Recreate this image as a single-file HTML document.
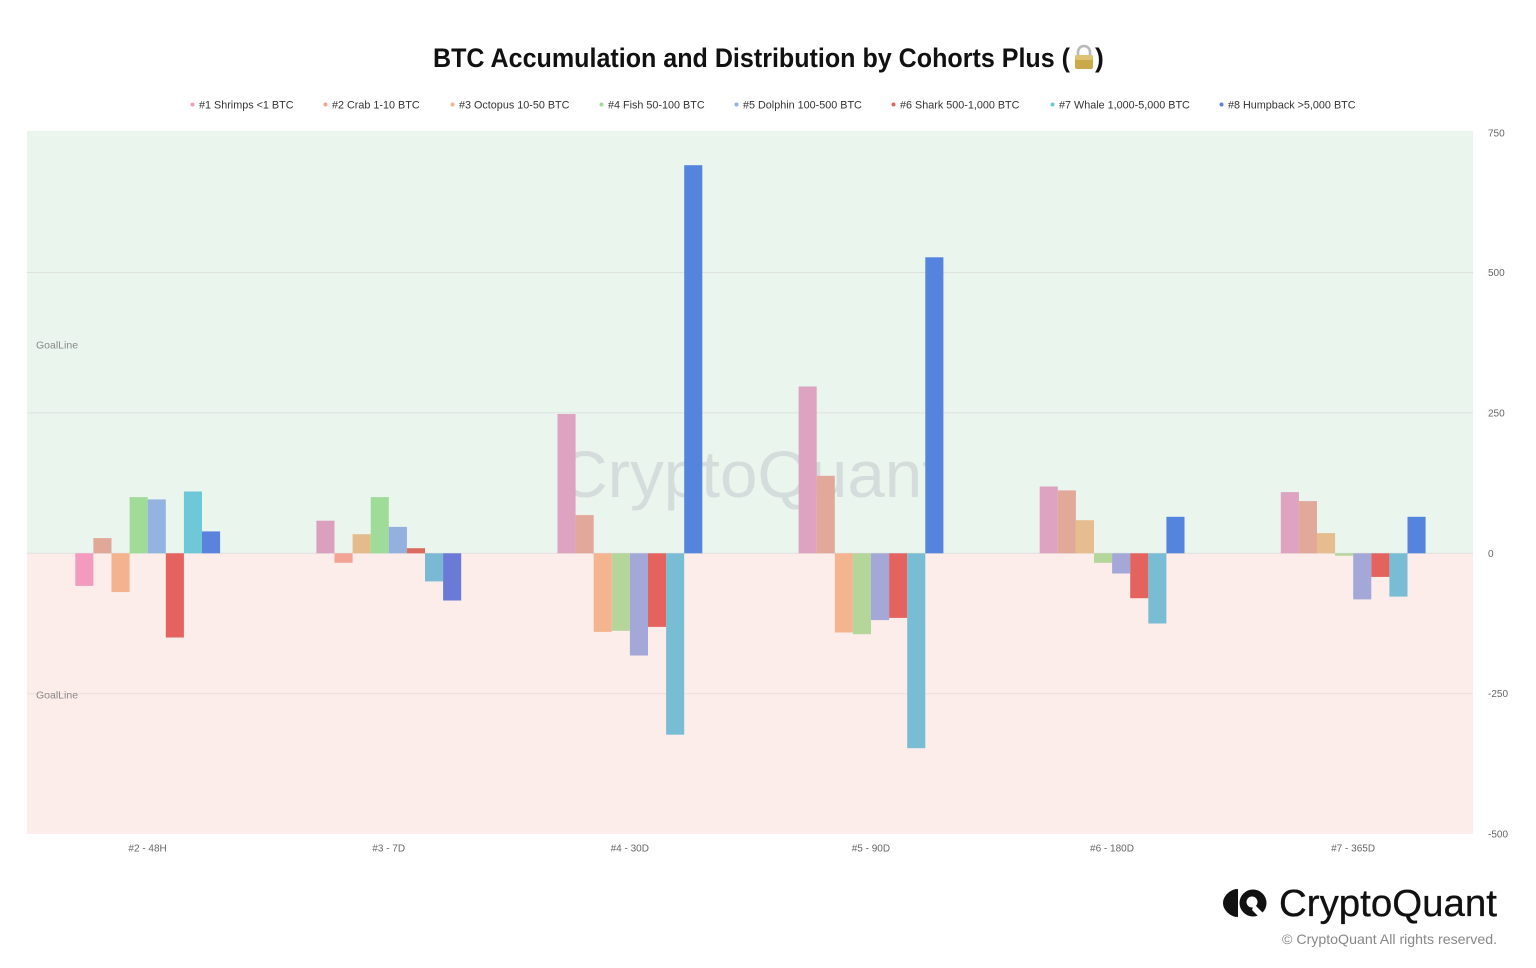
<!DOCTYPE html>
<html>
<head>
<meta charset="utf-8">
<style>
html,body{margin:0;padding:0;background:#fff;}
svg{display:block;}
text{font-family:"Liberation Sans",Arial,sans-serif;}
</style>
</head>
<body>
<svg width="1536" height="968" viewBox="0 0 1536 968" xmlns="http://www.w3.org/2000/svg">
  <rect x="0" y="0" width="1536" height="968" fill="#ffffff"/>

  <!-- Title -->
  <text x="433" y="67" font-size="26.5" font-weight="bold" fill="#111" textLength="637" lengthAdjust="spacingAndGlyphs">BTC Accumulation and Distribution by Cohorts Plus (</text>
  <g transform="translate(1073,45)">
    <path d="M5 11 V7 a6 6 0 0 1 12 0 V11" fill="none" stroke="#b9b9b9" stroke-width="2.6"/>
    <rect x="2" y="10" width="18" height="14" rx="2" fill="#c9a94a"/>
    <rect x="2" y="10" width="18" height="5" rx="2" fill="#dcc272"/>
  </g>
  <text x="1095" y="67" font-size="26.5" font-weight="bold" fill="#111">)</text>

  <!-- Legend -->
  <g font-size="10.8" fill="#333">
    <circle cx="192.5" cy="104.5" r="2" fill="#f29bbf"/><text x="199" y="108.5">#1 Shrimps &lt;1 BTC</text>
    <circle cx="325.5" cy="104.5" r="2" fill="#f2a396"/><text x="332" y="108.5">#2 Crab 1-10 BTC</text>
    <circle cx="452.5" cy="104.5" r="2" fill="#f4b38f"/><text x="459" y="108.5">#3 Octopus 10-50 BTC</text>
    <circle cx="601.5" cy="104.5" r="2" fill="#a0dc98"/><text x="608" y="108.5">#4 Fish 50-100 BTC</text>
    <circle cx="736.5" cy="104.5" r="2" fill="#95b3e0"/><text x="743" y="108.5">#5 Dolphin 100-500 BTC</text>
    <circle cx="893.5" cy="104.5" r="2" fill="#e5635e"/><text x="900" y="108.5">#6 Shark 500-1,000 BTC</text>
    <circle cx="1052.5" cy="104.5" r="2" fill="#6ec8d8"/><text x="1059" y="108.5">#7 Whale 1,000-5,000 BTC</text>
    <circle cx="1221.5" cy="104.5" r="2" fill="#5b82dd"/><text x="1228" y="108.5">#8 Humpback &gt;5,000 BTC</text>
  </g>

  <!-- Plot backgrounds -->
  <rect x="27" y="131" width="1446" height="422.3" fill="#eaf5ee"/>
  <rect x="27" y="553.3" width="1446" height="280.7" fill="#fcedea"/>

  <!-- Gridlines -->
  <g stroke="#dde2de" stroke-width="1">
    <line x1="27" x2="1473" y1="272.5" y2="272.5"/>
    <line x1="27" x2="1473" y1="412.9" y2="412.9"/>
    <line x1="27" x2="1473" y1="553.3" y2="553.3"/>
    <line x1="27" x2="1473" y1="693.7" y2="693.7" stroke="#ecdcd9"/>
  </g>

  <!-- GoalLine labels -->
  <text x="36" y="348.5" font-size="10.5" fill="#888">GoalLine</text>
  <text x="36" y="698.5" font-size="10.5" fill="#888">GoalLine</text>

  <!-- Watermark -->
  <text x="750" y="497" font-size="66" fill="#d5dcdc" text-anchor="middle" textLength="382" lengthAdjust="spacingAndGlyphs">CryptoQuant</text>

  <!-- Bars -->
  <g id="bars">
    <rect x="75.3" y="553.3" width="18.1" height="32.6" fill="#f29bbf"/>
    <rect x="93.4" y="538.1" width="18.1" height="15.2" fill="#e0a899"/>
    <rect x="111.5" y="553.3" width="18.1" height="38.8" fill="#f4b38f"/>
    <rect x="129.6" y="497.1" width="18.1" height="56.2" fill="#a0dc98"/>
    <rect x="147.7" y="499.4" width="18.1" height="53.9" fill="#95b3e0"/>
    <rect x="165.8" y="553.3" width="18.1" height="84.2" fill="#e5635e"/>
    <rect x="183.9" y="491.5" width="18.1" height="61.8" fill="#6ec8d8"/>
    <rect x="202.0" y="531.4" width="18.1" height="21.9" fill="#5b82dd"/>

    <rect x="316.4" y="520.7" width="18.1" height="32.6" fill="#dca0bf"/>
    <rect x="334.5" y="553.3" width="18.1" height="9.5" fill="#f2a396"/>
    <rect x="352.6" y="534.2" width="18.1" height="19.1" fill="#e4bc8c"/>
    <rect x="370.7" y="497.1" width="18.1" height="56.2" fill="#9fdb99"/>
    <rect x="388.8" y="526.9" width="18.1" height="26.4" fill="#93b0df"/>
    <rect x="406.9" y="548.2" width="18.1" height="5.1" fill="#dc6a5e"/>
    <rect x="425.0" y="553.3" width="18.1" height="28.1" fill="#79b9d3"/>
    <rect x="443.1" y="553.3" width="18.1" height="47.2" fill="#6a7ad6"/>

    <rect x="557.5" y="414.0" width="18.1" height="139.3" fill="#dda3c0"/>
    <rect x="575.6" y="515.1" width="18.1" height="38.2" fill="#e2a899"/>
    <rect x="593.7" y="553.3" width="18.1" height="78.6" fill="#f4b48f"/>
    <rect x="611.8" y="553.3" width="18.1" height="77.5" fill="#b4d69a"/>
    <rect x="629.9" y="553.3" width="18.1" height="102.2" fill="#a3a8d8"/>
    <rect x="648.0" y="553.3" width="18.1" height="73.6" fill="#e5635e"/>
    <rect x="666.1" y="553.3" width="18.1" height="181.4" fill="#79bdd5"/>
    <rect x="684.2" y="165.2" width="18.1" height="388.1" fill="#5484dd"/>

    <rect x="798.6" y="386.5" width="18.1" height="166.8" fill="#dda3c0"/>
    <rect x="816.7" y="475.8" width="18.1" height="77.5" fill="#e2a899"/>
    <rect x="834.8" y="553.3" width="18.1" height="79.2" fill="#f4b48f"/>
    <rect x="852.9" y="553.3" width="18.1" height="80.9" fill="#b4d69a"/>
    <rect x="871.0" y="553.3" width="18.1" height="66.8" fill="#a3a8d8"/>
    <rect x="889.1" y="553.3" width="18.1" height="64.6" fill="#e5635e"/>
    <rect x="907.2" y="553.3" width="18.1" height="194.9" fill="#79bdd5"/>
    <rect x="925.3" y="257.3" width="18.1" height="296.0" fill="#5484dd"/>

    <rect x="1039.7" y="486.5" width="18.1" height="66.8" fill="#dda3c0"/>
    <rect x="1057.8" y="490.4" width="18.1" height="62.9" fill="#e2a899"/>
    <rect x="1075.9" y="520.2" width="18.1" height="33.1" fill="#e6bd8f"/>
    <rect x="1094.0" y="553.3" width="18.1" height="9.5" fill="#b4d69a"/>
    <rect x="1112.1" y="553.3" width="18.1" height="20.2" fill="#a3a8d8"/>
    <rect x="1130.2" y="553.3" width="18.1" height="44.9" fill="#e5635e"/>
    <rect x="1148.3" y="553.3" width="18.1" height="70.2" fill="#79bdd5"/>
    <rect x="1166.4" y="516.8" width="18.1" height="36.5" fill="#5484dd"/>

    <rect x="1280.8" y="492.1" width="18.1" height="61.2" fill="#dda3c0"/>
    <rect x="1298.9" y="501.1" width="18.1" height="52.2" fill="#e2a899"/>
    <rect x="1317.0" y="533.1" width="18.1" height="20.2" fill="#e6bd8f"/>
    <rect x="1335.1" y="553.3" width="18.1" height="2.4" fill="#b4d69a"/>
    <rect x="1353.2" y="553.3" width="18.1" height="46.1" fill="#a3a8d8"/>
    <rect x="1371.3" y="553.3" width="18.1" height="23.6" fill="#e5635e"/>
    <rect x="1389.4" y="553.3" width="18.1" height="43.3" fill="#79bdd5"/>
    <rect x="1407.5" y="516.8" width="18.1" height="36.5" fill="#5484dd"/>
  </g>

  <!-- Y axis labels -->
  <g font-size="10" fill="#666">
    <text x="1488" y="136.5">750</text>
    <text x="1488" y="276">500</text>
    <text x="1488" y="416.5">250</text>
    <text x="1488" y="557">0</text>
    <text x="1488" y="697">-250</text>
    <text x="1488" y="837.5">-500</text>
  </g>

  <!-- X axis labels -->
  <g font-size="10" fill="#666" text-anchor="middle">
    <text x="147.6" y="851.5">#2 - 48H</text>
    <text x="388.7" y="851.5">#3 - 7D</text>
    <text x="629.8" y="851.5">#4 - 30D</text>
    <text x="870.9" y="851.5">#5 - 90D</text>
    <text x="1112" y="851.5">#6 - 180D</text>
    <text x="1353.1" y="851.5">#7 - 365D</text>
  </g>

  <!-- Logo -->
  <g fill="#111">
    <path d="M1236 889 C1228 891 1223 897 1223 903 C1223 909 1228 915 1236 917 Z"/>
    <path d="M1238 889 A14 14 0 0 0 1238 917 Z"/>
    <circle cx="1253" cy="903" r="13.5"/>
    <circle cx="1252" cy="902" r="5.5" fill="#fff"/>
    <path d="M1254 904 L1266 916 L1258 916 L1252 910 Z" fill="#fff"/>
  </g>
  <text x="1279" y="916" font-size="38" fill="#111" stroke="#111" stroke-width="0.3" textLength="218" lengthAdjust="spacingAndGlyphs">CryptoQuant</text>
  <text x="1282" y="944" font-size="14" fill="#888" textLength="215" lengthAdjust="spacingAndGlyphs">© CryptoQuant All rights reserved.</text>
</svg>
</body>
</html>
